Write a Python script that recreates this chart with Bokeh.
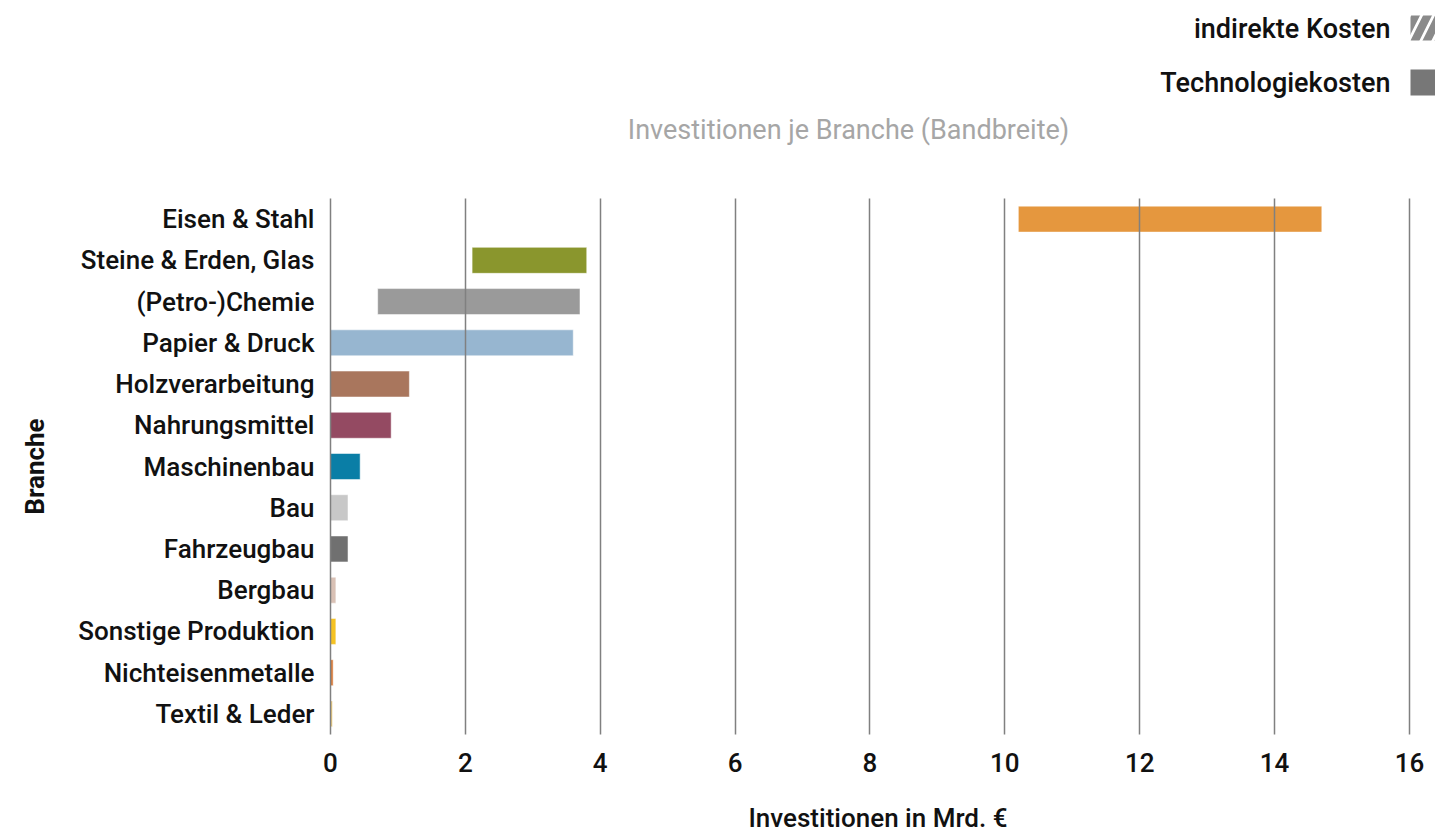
from bokeh.plotting import figure
from bokeh.models import FactorRange, Range1d, FixedTicker
from bokeh.layouts import column
from bokeh.core.properties import value
from bokeh.embed import file_html
from bokeh.resources import INLINE

branchen = ["Eisen & Stahl", "Steine & Erden, Glas", "(Petro-)Chemie", "Papier & Druck",
            "Holzverarbeitung", "Nahrungsmittel", "Maschinenbau", "Bau", "Fahrzeugbau",
            "Bergbau", "Sonstige Produktion", "Nichteisenmetalle", "Textil & Leder"]
von = [10.2, 2.1, 0.7, 0.0, 0.0, 0.0, 0.0, 0.0, 0.0, 0.0, 0.0, 0.0, 0.0]
bis = [14.7, 3.8, 3.7, 3.6, 1.17, 0.9, 0.44, 0.26, 0.26, 0.08, 0.08, 0.04, 0.03]
farben = ["#E5973E", "#8A962D", "#9A9A9A", "#97B6D0", "#A9765D", "#944A62", "#0A7EA6",
          "#C8C8C8", "#707070", "#D9C1B5", "#F5C223", "#D97B3A", "#E8C87A"]
x_ticks = [0, 2, 4, 6, 8, 10, 12, 14, 16]
legende = ["indirekte Kosten", "Technologiekosten"]
titel = "Investitionen je Branche (Bandbreite)"

FONT = "Roboto Medium, Roboto"
W, TOP_H = 1435, 198
FL, FW, FH = 320, 1115, 536   # frame left, frame width, frame height (px)

# ---- header (legend + title); x in canvas pixels (frame aligned with main chart) ----
h = figure(frame_width=FW, frame_height=TOP_H, x_range=Range1d(FL, FL + FW),
           y_range=Range1d(TOP_H, 0), output_backend="svg", toolbar_location=None,
           min_border_left=FL, min_border_right=0, min_border_top=0, min_border_bottom=0)
h.axis.visible = False
h.grid.visible = False
h.outline_line_color = None

h.text(x=[1390, 1390], y=[28, 82], text=legende, text_align="right", text_baseline="middle",
       text_font=value(FONT), text_font_size="27px", text_color="#111111")
h.text(x=[848], y=[129], text=[titel], text_align="center", text_baseline="middle",
       text_font=value("Roboto"), text_font_size="27px", text_color="#A6A6A6")
h.quad(left=[1410], right=[1445], top=[15], bottom=[40], fill_color="white",
       hatch_pattern="/", hatch_color="#8A8A8A", hatch_scale=24, hatch_weight=8, line_color=None)
h.quad(left=[1410], right=[1445], top=[69], bottom=[95], fill_color="#777777", line_color=None)

# ---- main chart ----
p = figure(frame_width=FW, frame_height=FH, y_range=FactorRange(*reversed(branchen)),
           x_range=Range1d(-0.148, 16.386), output_backend="svg", toolbar_location=None,
           min_border_left=FL, min_border_right=0, min_border_top=0, min_border_bottom=99)
p.outline_line_color = None

p.hbar(y=branchen, left=von, right=bis, height=0.63, fill_color=farben,
       line_color="white", line_alpha=0.5, line_width=1)

p.ygrid.grid_line_color = None
p.xgrid.grid_line_color = "#808080"
p.xgrid.grid_line_width = 1.5
p.xgrid.level = "overlay"
p.xaxis.ticker = FixedTicker(ticks=x_ticks)

for ax in (p.xaxis[0], p.yaxis[0]):
    ax.axis_line_color = None
    ax.major_tick_line_color = None
    ax.minor_tick_line_color = None
    ax.major_label_text_font = FONT
    ax.major_label_text_color = "#111111"
    ax.axis_label_text_font = FONT
    ax.axis_label_text_color = "#111111"

p.yaxis.major_label_text_font_size = "26px"
p.yaxis.major_label_standoff = 0
p.yaxis.axis_label = "Branche"
p.yaxis.axis_label_text_font = "Roboto"
p.yaxis.axis_label_text_font_style = "bold"
p.yaxis.axis_label_text_font_size = "26px"
p.yaxis.axis_label_standoff = 25

p.xaxis.major_label_text_font_size = "26px"
p.xaxis.major_label_standoff = 12
p.xaxis.axis_label = "Investitionen in Mrd. €"
p.xaxis.axis_label_text_font_style = "normal"
p.xaxis.axis_label_text_font_size = "26px"
p.xaxis.axis_label_standoff = 28

open("out.html", "w").write(file_html(column(h, p, spacing=0), INLINE))
